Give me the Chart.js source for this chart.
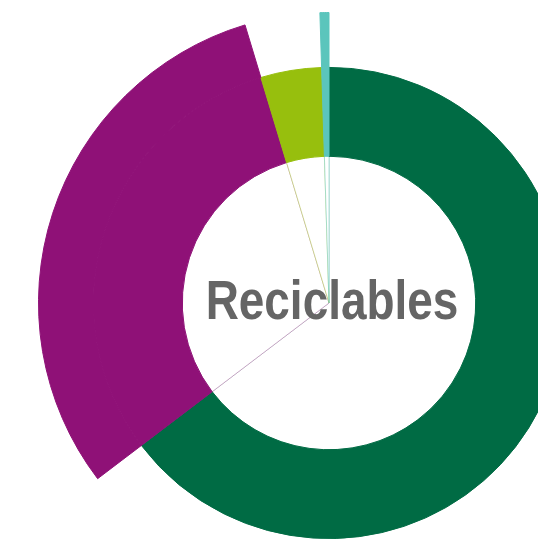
<!DOCTYPE html>
<html>
<head>
<meta charset="utf-8">
<title>Reciclables</title>
<script src="https://cdn.jsdelivr.net/npm/chart.js@4.4.1/dist/chart.umd.min.js"></script>
<style>
    body { margin: 0; width: 538px; height: 545px; overflow: hidden; background: #fff; position: relative; }
    #chart { position: absolute; left: 38px; top: 12px; }
    #centro {
        position: absolute; left: 0; width: 664px; top: 268px; text-align: center;
        font-family: "Liberation Sans Narrow", "Arial Narrow", "Liberation Sans", sans-serif;
        font-weight: bold; font-size: 56px; color: #656565; line-height: 64px;
        transform: scaleX(0.82); transform-origin: 332px 0;
    }
</style>
</head>
<body>
<canvas id="chart" width="582" height="582"></canvas>
<div id="centro">Reciclables</div>
<script>
//--- datos
var categorias = ['Verde', 'Morado', 'Verde claro', 'Turquesa'];
var porcentajes = [64.67, 30.67, 4.17, 0.5];
// que categorias salen en el anillo exterior
var anilloExterior = [false, true, false, true];
var colores = ['#006b44', '#8f1177', '#97bf0d', '#5bc5bc'];
var coloresLinea = ['rgba(0,107,68,0.35)', 'rgba(143,17,119,0.4)', 'rgba(151,191,13,0.5)', 'rgba(91,197,188,0.6)'];

var coloresExterior = colores.map(function (c, i) { return anilloExterior[i] ? c : 'rgba(0,0,0,0)'; });

var ctx = document.getElementById('chart');
var grafico = new Chart(ctx, {
    type: 'doughnut',
    data: {
        labels: categorias,
        datasets: [{
            label: 'exterior',
            data: porcentajes,
            backgroundColor: coloresExterior,
            borderColor: coloresExterior,
            borderWidth: 1,
            weight: 55
        }, {
            label: 'interior',
            data: porcentajes,
            backgroundColor: colores,
            borderColor: colores,
            borderWidth: 1,
            weight: 89
        }, {
            label: 'centro',
            data: porcentajes,
            backgroundColor: '#ffffff',
            borderColor: coloresLinea,
            borderWidth: 0.8,
            weight: 147
        }]
    },
    options: {
        responsive: false,
        animation: false,
        cutout: 0,
        events: [],
        layout: { padding: 0 },
        plugins: {
            legend: { display: false },
            tooltip: { enabled: false }
        }
    }
});
</script>
</body>
</html>
